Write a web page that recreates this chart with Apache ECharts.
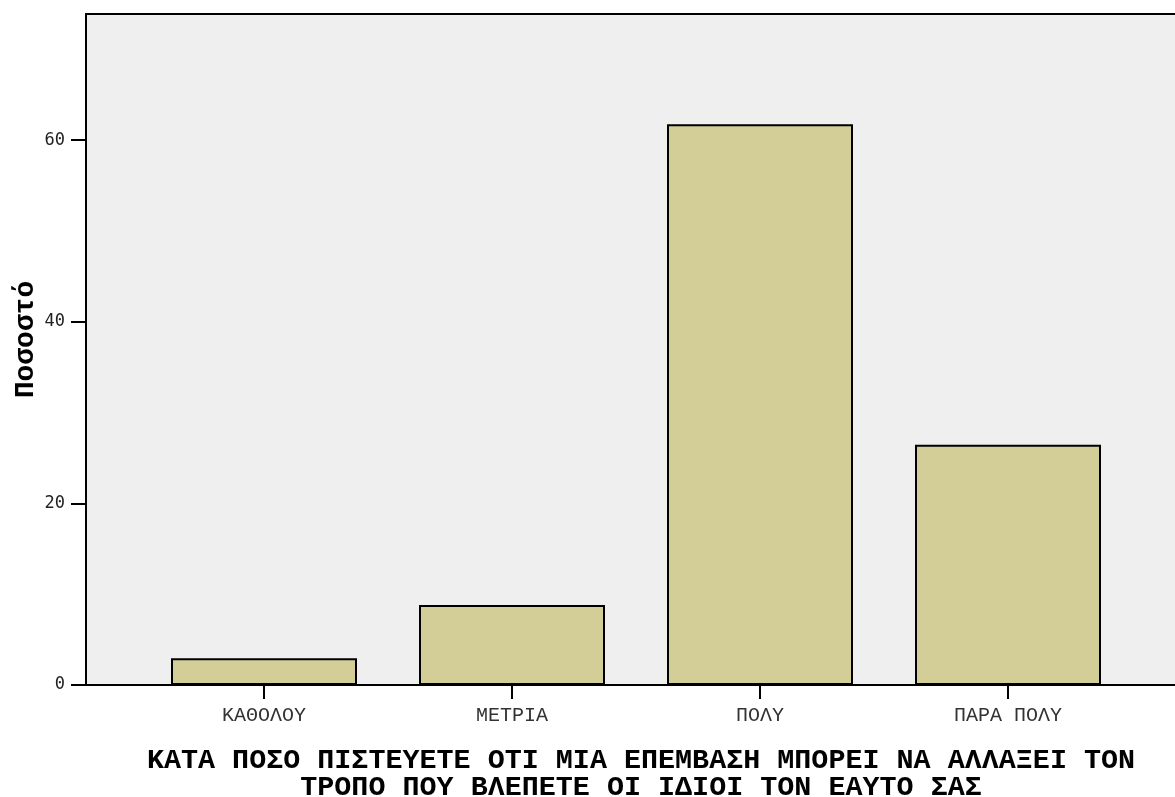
<!DOCTYPE html>
<html>
<head>
<meta charset="utf-8">
<script src="https://cdn.jsdelivr.net/npm/echarts@6/dist/echarts.min.js"></script>
<style>
  html, body { margin: 0; padding: 0; background: #ffffff; }
  #chart { width: 1175px; height: 797px; }
</style>
</head>
<body>
<div id="chart"></div>
<script>
// Response categories and percentage of respondents
const categories = ['ΚΑΘΟΛΟΥ', 'ΜΕΤΡΙΑ', 'ΠΟΛΥ', 'ΠΑΡΑ ΠΟΛΥ'];
const percentages = [2.94, 8.82, 61.76, 26.47];
const yTicks = [0, 20, 40, 60];
const xTitle = 'ΚΑΤΑ ΠΟΣΟ ΠΙΣΤΕΥΕΤΕ ΟΤΙ ΜΙΑ ΕΠΕΜΒΑΣΗ ΜΠΟΡΕΙ ΝΑ ΑΛΛΑΞΕΙ ΤΟΝ\nΤΡΟΠΟ ΠΟΥ ΒΛΕΠΕΤΕ ΟΙ ΙΔΙΟΙ ΤΟΝ ΕΑΥΤΟ ΣΑΣ';
const yTitle = 'Ποσοστό';

const yMax = 73.9;
const mono = '"Courier New", "Liberation Mono", monospace';

const chart = echarts.init(document.getElementById('chart'), null, { renderer: 'canvas' });

chart.setOption({
  animation: false,
  backgroundColor: '#ffffff',
  title: {
    text: xTitle,
    left: 636,
    top: 742,
    textAlign: 'center',
    textStyle: {
      fontFamily: mono,
      fontWeight: 'bold',
      fontSize: 28.4,
      lineHeight: 27,
      color: '#000000'
    }
  },
  grid: [
    // bar area
    { left: 140, right: 43, top: 14, bottom: 112, outerBoundsMode: 'none', containLabel: false },
    // framed plot background
    { left: 86, right: -4, top: 14, bottom: 112, outerBoundsMode: 'none', containLabel: false,
      show: true, backgroundColor: '#efefef', borderWidth: 0 }
  ],
  xAxis: [
    {
      gridIndex: 0,
      type: 'category',
      data: categories,
      axisLine: { show: false },
      axisTick: { show: true, alignWithLabel: true, length: 14, lineStyle: { color: '#000', width: 2 } },
      axisLabel: { margin: 21, fontFamily: mono, fontSize: 20, color: '#333' }
    },
    {
      gridIndex: 1, type: 'value', min: 0, max: 1, position: 'bottom',
      axisLine: { show: true, onZero: false, lineStyle: { color: '#000', width: 2 } },
      axisTick: { show: false }, axisLabel: { show: false }, splitLine: { show: false }
    },
    {
      gridIndex: 1, type: 'value', min: 0, max: 1, position: 'top',
      axisLine: { show: true, onZero: false, lineStyle: { color: '#000', width: 2 } },
      axisTick: { show: false }, axisLabel: { show: false }, splitLine: { show: false }
    }
  ],
  yAxis: [
    {
      gridIndex: 0, type: 'value', min: 0, max: yMax,
      show: false
    },
    {
      gridIndex: 1, type: 'value', min: 0, max: yMax, interval: 20,
      name: yTitle,
      nameLocation: 'middle',
      nameGap: 46,
      nameMoveOverlap: false,
      nameTextStyle: { fontFamily: mono, fontWeight: 'bold', fontSize: 28, color: '#000', padding: [0, 0, 0, 20] },
      axisLine: { show: true, onZero: false, lineStyle: { color: '#000', width: 2 } },
      axisTick: { show: true, inside: false, length: 15, customValues: yTicks, lineStyle: { color: '#000', width: 2 } },
      axisLabel: { margin: 21, customValues: yTicks, fontFamily: '"DejaVu Sans Mono", monospace', fontSize: 17, color: '#222' },
      splitLine: { show: false }
    }
  ],
  series: [
    {
      type: 'bar',
      xAxisIndex: 0,
      yAxisIndex: 0,
      data: percentages,
      barCategoryGap: '25%',
      itemStyle: { color: '#d3ce97', borderColor: '#000', borderWidth: 2 }
    }
  ]
});
</script>
</body>
</html>
